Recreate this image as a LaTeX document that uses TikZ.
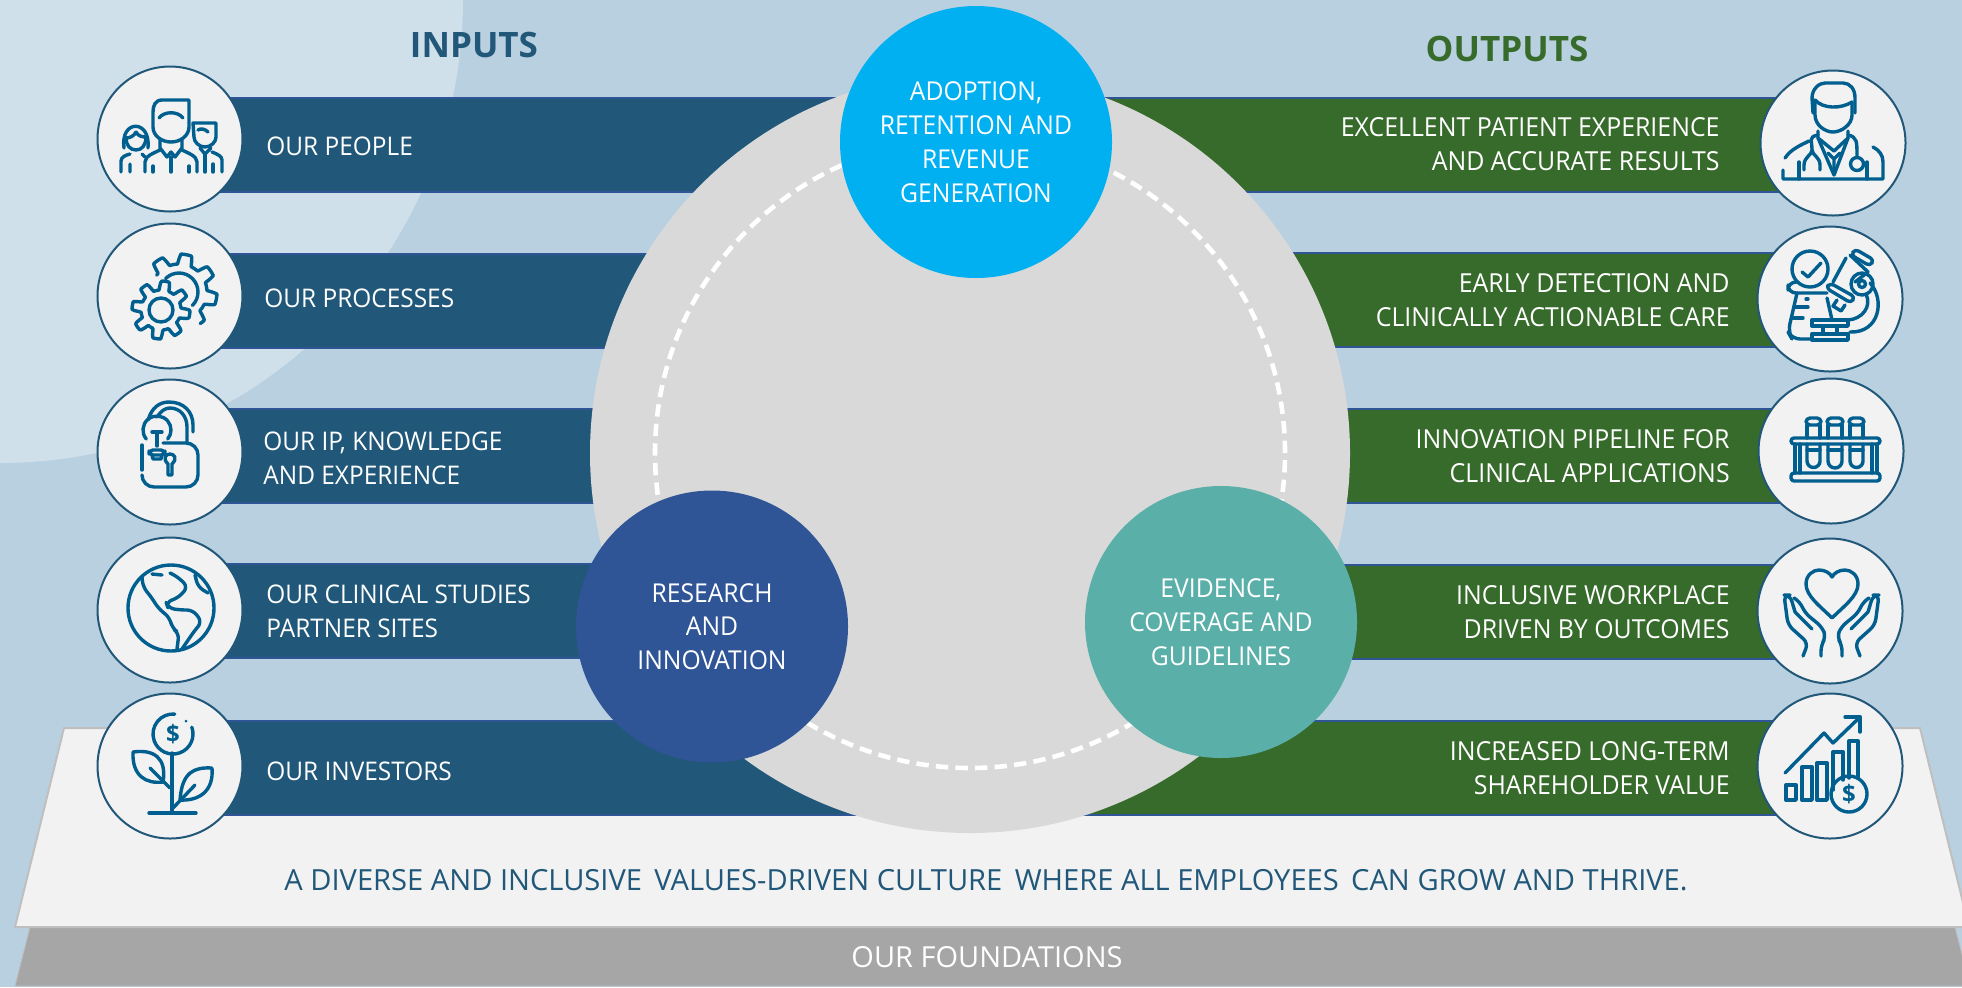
\documentclass[tikz,border=0pt]{standalone}
\usepackage{fontspec}
\setmainfont{Open Sans}
\newfontfamily\tightfont[FakeStretch=0.95]{Open Sans}
\usepackage{tikz}
\definecolor{bgblue}{HTML}{B9D0E0}
\definecolor{bglight}{HTML}{CFE0EB}
\definecolor{inblue}{HTML}{215779}
\definecolor{outgreen}{HTML}{376B2B}
\definecolor{barline}{HTML}{2F5597}
\definecolor{icongrey}{HTML}{F2F2F2}
\definecolor{iconline}{HTML}{005F8F}
\definecolor{hubgrey}{HTML}{D9D9D9}
\definecolor{hubtop}{HTML}{00B0F0}
\definecolor{hubleft}{HTML}{2F5597}
\definecolor{hubright}{HTML}{5AAFA9}
\definecolor{basegrey}{HTML}{A6A6A6}
\definecolor{baseline}{HTML}{BFBFBF}

\begin{document}
\begin{tikzpicture}[x=0.5pt,y=-0.5pt]

\tikzstyle{inbar}=[rectangle, fill=inblue, draw=barline, line width=1pt, inner sep=0pt, anchor=west, minimum width=400pt, minimum height=47pt]
\tikzstyle{outbar}=[rectangle, fill=outgreen, draw=barline, line width=1pt, inner sep=0pt, anchor=east, minimum width=432pt, minimum height=47pt]
\tikzstyle{iconbox}=[circle, fill=icongrey, draw=inblue, line width=1pt, inner sep=0pt, minimum size=72.5pt]
\tikzstyle{hub}=[circle, inner sep=0pt, minimum size=136pt, text=white, align=center, font=\tightfont\fontsize{13}{16.9}\selectfont]
\tikzstyle{intext}=[anchor=west, inner sep=0pt, text=white, align=left, font=\tightfont\fontsize{12.85}{16.9}\selectfont]
\tikzstyle{outtext}=[anchor=east, inner sep=0pt, text=white, align=right, font=\tightfont\fontsize{13.1}{16.9}\selectfont]
\tikzstyle{heading}=[inner sep=0pt, font=\bfseries\fontsize{17.5}{22}\selectfont]
\tikzstyle{icon}=[draw=iconline, line width=1.7pt, line cap=round, line join=round]

% backdrop
\useasboundingbox (0,0) rectangle (1962,987);
\fill[bgblue] (0,0) rectangle (1962,987);
\fill[bglight] (0,0) circle[radius=463];

% foundations
\draw[fill=basegrey, draw=baseline] (30,927) -- (1955,927) -- (1970,986) -- (15,986) -- cycle;
\draw[fill=icongrey, draw=baseline, line width=1pt] (64,728) -- (1920,728) -- (1969,927) -- (15,927) -- cycle;

\node (culture) [inner sep=0pt, text=inblue, font=\fontsize{14.55}{18}\selectfont] at (986,880) {A DIVERSE AND INCLUSIVE\, VALUES-DRIVEN CULTURE\, WHERE ALL EMPLOYEES\, CAN GROW AND THRIVE.};
\node (found) [inner sep=0pt, text=white, font=\fontsize{14.5}{18}\selectfont] at (987,957) {OUR FOUNDATIONS};

% bars
\node (barA) [inbar] at (170,145) {};
\node (barB) [inbar] at (170,300.5) {};
\node (barC) [inbar] at (170,455.5) {};
\node (barD) [inbar] at (170,611) {};
\node (barE) [inbar] at (170,767.5) {};
\node (barF) [outbar] at (1833,144.5) {};
\node (barG) [outbar] at (1833,300) {};
\node (barH) [outbar] at (1833,456) {};
\node (barI) [outbar] at (1833,612) {};
\node (barJ) [outbar] at (1833,768) {};

% middle
\node (grey) [circle, fill=hubgrey, inner sep=0pt, minimum size=380pt] at (970,453) {};
\node (ring) [circle, draw=white, line width=2.3pt, dash pattern=on 6.2pt off 3.6pt, inner sep=0pt, minimum size=315pt] at (970,453) {};
\node (adopt) [hub, fill=hubtop] at (976,142) {ADOPTION,\\RETENTION AND\\REVENUE\\GENERATION};
\node (research) [hub, fill=hubleft] at (712,626.5) {RESEARCH\\AND\\INNOVATION};
\node (evidence) [hub, fill=hubright] at (1221,622) {EVIDENCE,\\COVERAGE AND\\GUIDELINES};

% headings
\node (inputs) [heading, text=inblue] at (474,45) {INPUTS};
\node (outputs) [heading, text=outgreen] at (1507,49) {OUTPUTS};

% labels
\node (lblA) [intext] at (266,146) {OUR PEOPLE};
\node (lblB) [intext] at (264,298) {OUR PROCESSES};
\node (lblC) [intext] at (263,458) {OUR IP, KNOWLEDGE\\AND EXPERIENCE};
\node (lblD) [intext] at (266,611) {OUR CLINICAL STUDIES\\PARTNER SITES};
\node (lblE) [intext] at (266,771) {OUR INVESTORS};
\node (lblF) [outtext] at (1720,144.5) {EXCELLENT PATIENT EXPERIENCE\\AND ACCURATE RESULTS};
\node (lblG) [outtext] at (1730,300) {EARLY DETECTION AND\\CLINICALLY ACTIONABLE CARE};
\node (lblH) [outtext] at (1730,456) {INNOVATION PIPELINE FOR\\CLINICAL APPLICATIONS};
\node (lblI) [outtext] at (1730,612) {INCLUSIVE WORKPLACE\\DRIVEN BY OUTCOMES};
\node (lblJ) [outtext] at (1730,768) {INCREASED LONG-TERM\\SHAREHOLDER VALUE};

% icon discs
\node (iconA) [iconbox] at (170,139) {};
\node (iconB) [iconbox] at (170,296) {};
\node (iconC) [iconbox] at (170,452) {};
\node (iconD) [iconbox] at (170,610) {};
\node (iconE) [iconbox] at (170,766) {};
\node (iconF) [iconbox] at (1833,143) {};
\node (iconG) [iconbox] at (1830,299) {};
\node (iconH) [iconbox] at (1831,451) {};
\node (iconI) [iconbox] at (1830,611) {};
\node (iconJ) [iconbox] at (1830,766) {};

% people
\begin{scope}[shift={(iconA)}]
\draw[icon] (19,-39) -- (-8,-39) .. controls (-15,-39) and (-17,-33) .. (-17,-27) -- (-17,-12) .. controls (-17,-3) and (-8,3) .. (1,3) .. controls (10,3) and (19,-3) .. (19,-12) -- cycle;
\draw[icon] (-11,-21) .. controls (-6,-28) and (8,-28) .. (13,-21);
\draw[icon] (-10,1) -- (-10,9) -- (-3,18) -- (1,13) -- (5,18) -- (12,9) -- (12,1);
\draw[icon] (-25,33) -- (-25,23) .. controls (-25,17) and (-16,14) .. (-10,11);
\draw[icon] (27,33) -- (27,23) .. controls (27,17) and (18,14) .. (12,11);
\draw[icon] (1,18) -- (1,33) (-17,27) -- (-17,33) (19,27) -- (19,33);
\draw[icon] (-46,9) .. controls (-50,-20) and (-19,-20) .. (-22,9);
\draw[icon] (-34,-7) .. controls (-32,-3) and (-28,-2) .. (-24,-2) .. controls (-24,6) and (-28,11) .. (-34,11) .. controls (-40,11) and (-44,6) .. (-44,-1) .. controls (-40,-1) and (-36,-3) .. (-34,-7);
\draw[icon] (-49,33) -- (-49,22) .. controls (-49,18) and (-44,16) .. (-40,15);
\draw[icon] (-40,25) -- (-40,33) (-28,15) -- (-25,18);
\draw[icon] (23,-16) -- (46,-16) -- (46,-2) .. controls (46,3) and (41,8) .. (35,8) .. controls (29,8) and (24,3) .. (24,-2) -- cycle;
\draw[icon] (28,-9) .. controls (31,-11) and (35,-10) .. (38,-7);
\draw[icon] (30,9) -- (35,15) -- (41,9);
\draw[icon] (52,33) -- (52,21) .. controls (52,17) and (47,15) .. (42,13);
\draw[icon] (35,15) -- (35,33) (43,25) -- (43,33);
\end{scope}

% gears
\begin{scope}[shift={(iconB)}]
\draw[icon] plot[domain=217:416,samples=140] ({9+(33+5*max(-1,min(1,2.5*sin(8*\x))))*cos(\x)},{-4+(33+5*max(-1,min(1,2.5*sin(8*\x))))*sin(\x)});
\draw[icon] (9,-4) ++(225:19) arc[start angle=225,end angle=405,radius=19];
\draw[icon] plot[domain=0:360,samples=140] ({-9+(24.5+4.5*max(-1,min(1,2.5*sin(8*\x+20))))*cos(\x)},{14+(24.5+4.5*max(-1,min(1,2.5*sin(8*\x+20))))*sin(\x)}) -- cycle;
\draw[icon] (-9,14) circle[radius=12];
\end{scope}

% lock and bulb
\begin{scope}[shift={(iconC)}]
\draw[icon, rounded corners=6] (-7,-9) -- (28,-9) -- (28,35) -- (-28,35) -- (-28,24);
\draw[icon] (-28,18) -- (-28,-7);
\draw[icon] (-22,-32) .. controls (-18,-45) and (-10,-50) .. (-1,-50) .. controls (14,-50) and (23,-40) .. (23,-27) -- (23,-20);
\draw[icon] (-13,-35) .. controls (-9,-41) and (-5,-44) .. (0,-44) .. controls (10,-44) and (17,-36) .. (17,-25) -- (17,-10);
\draw[icon] (-13,-22) ++(140:14) arc[start angle=140,end angle=400,radius=14];
\draw[icon] (-18,-20) -- (-8,-20) (-13,-20) -- (-13,-6);
\draw[icon, rounded corners=2] (-21,-2) rectangle (-5,3);
\draw[icon] (-18,3) -- (-17,7) -- (-9,7) -- (-8,3);
\draw[icon] (-2,12) .. controls (-8,6) and (-4,2) .. (0,2) .. controls (4,2) and (8,6) .. (2,12) -- (2,23) -- (-2,23) -- cycle;
\end{scope}

% globe
\begin{scope}[shift={(iconD)}]
\draw[icon] (1,-2) circle[radius=43];
\draw[icon, rounded corners=3] (-28,-33) -- (-27,-23) -- (-18,-12) -- (-12,-2) -- (0,8) -- (2,18) -- (9,23) -- (7,39);
\draw[icon, rounded corners=3] (12,39) -- (25,20) -- (32,12) -- (23,0) -- (10,0) -- (-2,-2) -- (-4,-8) -- (8,-12) -- (18,-23) -- (8,-33) -- (0,-37);
\draw[icon] (-18,-36) -- (-8,-35);
\draw[icon, rounded corners=3] (25,-35) -- (28,-23) -- (38,-17);
\end{scope}

% plant
\begin{scope}[shift={(iconE)}]
\draw[icon] (3,-32) ++(-20:20) arc[start angle=-20,end angle=275,radius=20];
\fill[iconline] (16,-45) circle[radius=1.5];
\node (dollarE) [inner sep=0pt, text=iconline, font=\bfseries\fontsize{12}{12}\selectfont] at (3,-32) {\$};
\draw[icon] (2,-13) -- (2,47) (-21,47) -- (26,47);
\draw[icon] (-37,-14) .. controls (-16,-17) and (-3,-8) .. (-7,16) .. controls (-24,18) and (-38,10) .. (-37,-14) -- cycle;
\draw[icon] (-20,2) -- (0,22);
\draw[icon] (42,2) .. controls (24,1) and (12,6) .. (10,34) .. controls (28,35) and (44,26) .. (42,2) -- cycle;
\draw[icon] (25,19) -- (3,42);
\end{scope}

% doctor
\begin{scope}[shift={(iconF)}]
\draw[icon] (-20,-30) -- (-21,-45) .. controls (-21,-54) and (-14,-60) .. (-8,-60) -- (10,-60) .. controls (17,-60) and (22,-54) .. (22,-45) -- (22,-30);
\draw[icon] (-18,-43) .. controls (-10,-34) and (8,-34) .. (19,-41);
\draw[icon] (-18,-43) -- (-18,-28) .. controls (-18,-18) and (-8,-11) .. (0,-11) .. controls (8,-11) and (19,-18) .. (19,-28) -- (19,-41);
\draw[icon] (-15,-5) -- (1,32) -- (15,-5);
\draw[icon] (-15,-12) -- (-15,-5) -- (1,8) -- (15,-5) -- (15,-12);
\draw[icon] (-5,10) -- (1,16) -- (7,10) (1,16) -- (1,28);
\draw[icon] (-15,-8) .. controls (-25,-6) and (-21,-3) .. (-21,7) .. controls (-21,12) and (-29,14) .. (-29,22) -- (-29,27);
\draw[icon] (-21,7) .. controls (-21,12) and (-13,14) .. (-13,22) -- (-13,27);
\draw[icon] (15,-8) .. controls (24,-6) and (24,-2) .. (24,14);
\draw[icon] (24,21) circle[radius=6.5];
\draw[icon] (-50,27) -- (-50,36) -- (50,36) -- (50,19) .. controls (50,12) and (46,7) .. (40,4);
\draw[icon] (-48,15) .. controls (-42,6) and (-32,2) .. (-24,-2);
\draw[icon] (-34,19) -- (-34,36) (34,19) -- (34,36);
\end{scope}

% microscope
\begin{scope}[shift={(iconG)}]
\draw[icon] (-20,-30) circle[radius=18];
\draw[icon] (-28,-27) -- (-22,-22) -- (-9,-36);
\draw[icon, rounded corners=4] (-3,-6) -- (-42,-6) -- (-42,-17) -- (-32,-17);
\draw[icon, rounded corners=4] (-33,-6) -- (-42,33) -- (-38,40) -- (-18,40);
\draw[icon] (-3,-1) -- (2,21);
\draw[icon] (-35,8) -- (-22,8) (-37,19) -- (-27,19) (-24,0) -- (-22,0);
\draw[icon] (-18,21) rectangle (18,27) (-18,35) rectangle (18,41) (-7,27) -- (-7,35) (7,27) -- (7,35);
\draw[icon, rounded corners=2] (25,-50) -- (44,-39) -- (40,-33) -- (21,-44) -- cycle;
\draw[icon] (16,-41) -- (3,-17) (38,-27) -- (25,-17);
\draw[icon] (20,-44) -- (38,-27);
\draw[icon, rounded corners=2] (0,-16) -- (25,-2) -- (21,4) -- (-4,-11) -- cycle;
\draw[icon] (7,1) -- (3,7) -- (11,12) -- (15,6);
\draw[icon] (32,-15) circle[radius=11] (32,-15) circle[radius=3.5];
\draw[icon] (40,-16) .. controls (55,0) and (50,34) .. (20,33);
\draw[icon] (36,-5) .. controls (42,8) and (32,20) .. (18,21);
\end{scope}

% tubes
\begin{scope}[shift={(iconH)}]
\draw[icon, rounded corners=1.5] (-40,-13) rectangle (49,-7);
\draw[icon, rounded corners=1.5] (-40,22) rectangle (49,30);
\draw[icon] (-36,-7) -- (-36,22) (-31,-7) -- (-31,22) (41,-7) -- (41,22) (46,-7) -- (46,22);
\draw[icon, rounded corners=2] (-25,-33) rectangle (-10,-26);
\draw[icon, rounded corners=2] (-4,-33) rectangle (12,-26);
\draw[icon, rounded corners=2] (18,-33) rectangle (33,-26);
\draw[icon] (-24,-26) -- (-24,-13) (-11,-26) -- (-11,-13) (-3,-26) -- (-3,-13) (11,-26) -- (11,-13) (19,-26) -- (19,-13) (32,-26) -- (32,-13);
\draw[icon] (-24,-7) -- (-24,10) arc[start angle=180,end angle=0,radius=6.5] -- (-11,-7);
\draw[icon] (-3,-7) -- (-3,10) arc[start angle=180,end angle=0,radius=7] -- (11,-7);
\draw[icon] (19,-7) -- (19,10) arc[start angle=180,end angle=0,radius=6.5] -- (32,-7);
\draw[icon] (-24,-1) -- (-11,-1) (-3,-1) -- (11,-1) (19,-1) -- (32,-1);
\end{scope}

% hands
\begin{scope}[shift={(iconI)}]
\draw[icon] (2,7) .. controls (-10,-5) and (-24,-15) .. (-24,-27) .. controls (-24,-36) and (-17,-41) .. (-11,-41) .. controls (-5,-41) and (0,-38) .. (2,-34) .. controls (4,-38) and (9,-41) .. (15,-41) .. controls (21,-41) and (28,-36) .. (28,-27) .. controls (28,-15) and (14,-5) .. (2,7);
\draw[icon, rounded corners=3] (-27,45) -- (-22,32) -- (-42,14) -- (-46,-16) -- (-40,-16) -- (-35,1);
\draw[icon, rounded corners=3] (-36,-13) -- (-30,-9) -- (-25,2) -- (-8,16) -- (-4,26) -- (-9,34) -- (-9,45);
\draw[icon] (-35,1) -- (-18,18);
\draw[icon, rounded corners=3] (30,45) -- (25,32) -- (45,14) -- (49,-16) -- (43,-16) -- (38,1);
\draw[icon, rounded corners=3] (39,-13) -- (33,-9) -- (28,2) -- (11,16) -- (7,26) -- (12,34) -- (12,45);
\draw[icon] (38,1) -- (21,18);
\end{scope}

% chart
\begin{scope}[shift={(iconJ)}]
\draw[icon] (-44,19) rectangle (-34,34);
\draw[icon] (-28,1) rectangle (-18,34);
\draw[icon] (-13,-3) rectangle (-3,34);
\draw[icon] (3,24) -- (3,-14) -- (13,-14) -- (13,14);
\draw[icon] (19,12) -- (19,-25) -- (28,-25) -- (28,12);
\draw[icon] (19,28) circle[radius=18];
\node (dollarJ) [inner sep=0pt, text=iconline, font=\bfseries\fontsize{12}{12}\selectfont] at (19,28) {\$};
\draw[icon] (-45,7) -- (-6,-33) -- (3,-23) -- (30,-49);
\draw[icon] (15,-49) -- (30,-49) -- (30,-34);
\end{scope}

\end{tikzpicture}
\end{document}
